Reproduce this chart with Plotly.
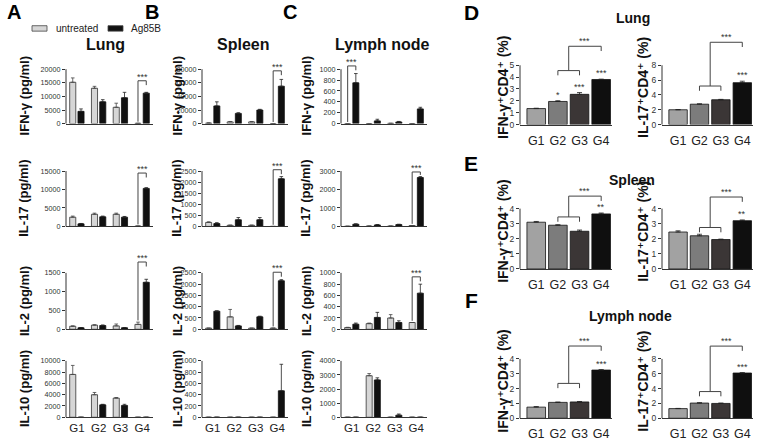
import plotly.graph_objects as go

W, H = 760, 446
groups = ["G1", "G2", "G3", "G4"]
FONT = "Arial, Liberation Sans, DejaVu Sans, sans-serif"

# ---------------- Panels A-C : cytokines (pg/ml) ----------------
lung_ifng_untreated = [15200, 13000, 6000, 100]
lung_ifng_untreated_err = [1600, 700, 1500, 0]
lung_ifng_ag85b = [4500, 8000, 9500, 11200]
lung_ifng_ag85b_err = [900, 800, 2000, 300]

lung_il17_untreated = [2500, 3300, 3300, 100]
lung_il17_untreated_err = [300, 300, 300, 0]
lung_il17_ag85b = [700, 2600, 2500, 10300]
lung_il17_ag85b_err = [100, 200, 200, 200]

lung_il2_untreated = [80, 110, 90, 130]
lung_il2_untreated_err = [10, 10, 50, 60]
lung_il2_ag85b = [40, 100, 40, 1250]
lung_il2_ag85b_err = [5, 15, 5, 80]

lung_il10_untreated = [7600, 4000, 3400, 0]
lung_il10_untreated_err = [1600, 400, 100, 0]
lung_il10_ag85b = [0, 2200, 2100, 0]
lung_il10_ag85b_err = [0, 100, 200, 0]

spleen_ifng_untreated = [800, 2500, 2500, 0]
spleen_ifng_untreated_err = [200, 600, 600, 0]
spleen_ifng_ag85b = [26000, 15000, 20000, 55000]
spleen_ifng_ag85b_err = [6000, 1000, 1000, 10000]

spleen_il17_untreated = [180, 50, 50, 0]
spleen_il17_untreated_err = [30, 10, 10, 0]
spleen_il17_ag85b = [130, 300, 300, 2150]
spleen_il17_ag85b_err = [40, 100, 100, 100]

spleen_il2_untreated = [50, 550, 50, 50]
spleen_il2_untreated_err = [0, 330, 0, 0]
spleen_il2_ag85b = [800, 150, 550, 2150]
spleen_il2_ag85b_err = [20, 20, 30, 50]

spleen_il10_untreated = [0, 0, 0, 0]
spleen_il10_untreated_err = [0, 0, 0, 0]
spleen_il10_ag85b = [0, 0, 0, 470]
spleen_il10_ag85b_err = [0, 0, 0, 470]

lymph_ifng_untreated = [0, 0, 5, 0]
lymph_ifng_untreated_err = [0, 0, 0, 0]
lymph_ifng_ag85b = [750, 50, 30, 270]
lymph_ifng_ag85b_err = [170, 30, 10, 30]

lymph_il17_untreated = [10, 20, 20, 50]
lymph_il17_untreated_err = [0, 0, 0, 0]
lymph_il17_ag85b = [120, 80, 100, 2650]
lymph_il17_ag85b_err = [20, 20, 20, 50]

lymph_il2_untreated = [30, 100, 200, 120]
lymph_il2_untreated_err = [5, 10, 60, 0]
lymph_il2_ag85b = [90, 210, 120, 640]
lymph_il2_ag85b_err = [20, 90, 30, 160]

lymph_il10_untreated = [0, 2950, 0, 0]
lymph_il10_untreated_err = [0, 150, 0, 0]
lymph_il10_ag85b = [0, 2650, 150, 0]
lymph_il10_ag85b_err = [0, 150, 80, 0]

# tick values
ticks_lung = [[0, 5000, 10000, 15000, 20000], [0, 5000, 10000, 15000],
              [0, 500, 1000, 1500], [0, 2000, 4000, 6000, 8000, 10000]]
ticks_spleen = [[0, 20000, 40000, 60000, 80000], [0, 500, 1000, 1500, 2000, 2500],
                [0, 500, 1000, 1500, 2000, 2500], [0, 200, 400, 600, 800, 1000]]
ticks_lymph = [[0, 200, 400, 600, 800, 1000], [0, 1000, 2000, 3000],
               [0, 200, 400, 600, 800, 1000], [0, 1000, 2000, 3000, 4000]]

# significance brackets: (group index, bracket height) or None
sig_lung = [(3, 15750), (3, 14460), (3, 1790), None]
sig_spleen = [(3, 77600), (3, 2560), (3, 2530), None]
sig_lymph = [(0, 1060), (3, 2950), (3, 930), None]

ylabels_abc = ["IFN-γ (pg/ml)", "IL-17 (pg/ml)", "IL-2 (pg/ml)", "IL-10 (pg/ml)"]

# ---------------- Panels D-F : % positive CD4 ----------------
lung_ifng_pct = [1.35, 1.95, 2.55, 3.8]
lung_ifng_pct_err = [0.03, 0.06, 0.15, 0.03]
lung_il17_pct = [2.0, 2.75, 3.35, 5.65]
lung_il17_pct_err = [0.03, 0.05, 0.05, 0.2]
spleen_ifng_pct = [3.1, 2.9, 2.5, 3.65]
spleen_ifng_pct_err = [0.05, 0.03, 0.08, 0.06]
spleen_il17_pct = [2.45, 2.2, 1.95, 3.2]
spleen_il17_pct_err = [0.08, 0.1, 0.03, 0.05]
lymph_ifng_pct = [0.75, 1.07, 1.1, 3.25]
lymph_ifng_pct_err = [0.04, 0.02, 0.03, 0.03]
lymph_il17_pct = [1.3, 2.05, 2.0, 6.1]
lymph_il17_pct_err = [0.03, 0.05, 0.05, 0.05]

stars_lung_ifng = ["", "*", "***", "***"]
stars_lung_il17 = ["", "", "", "***"]
stars_spleen_ifng = ["", "", "", "**"]
stars_spleen_il17 = ["", "", "", "**"]
stars_lymph_ifng = ["", "", "", "***"]
stars_lymph_il17 = ["", "", "", "***"]

# comparison (G2+G3) vs G4 : (lower bracket height, upper bracket height)
cmp_lung = [(4.55, 6.6), (5.2, 11.1)]
cmp_spleen = [(3.45, 4.83), (2.75, 4.77)]
cmp_lymph = [(2.35, 4.87), (3.6, 9.73)]

group_colors = ["#a2a2a2", "#7c7c7c", "#3b3636", "#0f0f0f"]
UNTR_COLOR = "#d6d6d6"
AG_COLOR = "#111111"

# ---------------- layout geometry (pixels) ----------------
abc_cols = [(66, 153), (202, 288), (341, 427)]
abc_rows = [(125, 70), (229, 173), (333, 276), (422, 365)]
abc_title_x = [24, 177, 306]
def_cols = [(520, 612), (662, 753)]
def_rows = [(126, 66), (272, 211), (423, 363)]
def_title_x = [503, 643]

fig = go.Figure()
layout = {}
shapes = []
annotations = []
axis_i = [0]


def px_x(p):
    return p / W


def px_y(p):
    return 1 - p / H


def new_axes(xpix, ypix, top_tick, tickvals, xrange, ext, show_xlabels, tickfont, xfont,
             xstandoff):
    axis_i[0] += 1
    i = axis_i[0]
    xname, yname = ("xaxis%d" % i, "yaxis%d" % i)
    x0, x1 = xpix
    y0, ytop = ypix
    hpx = (y0 - ytop) * ext
    layout[xname] = dict(domain=[px_x(x0), px_x(x1)], range=list(xrange), anchor="y%d" % i,
                         showline=True, linecolor="#333", linewidth=1, ticks="",
                         tickvals=[0, 1, 2, 3], ticktext=groups, showticklabels=show_xlabels,
                         ticklabelstandoff=xstandoff,
                         tickfont=dict(size=xfont, color="#222", family=FONT),
                         showgrid=False, zeroline=False, fixedrange=True)
    layout[yname] = dict(domain=[px_y(y0), px_y(y0 - hpx)], range=[0, top_tick * ext],
                         anchor="x%d" % i, showline=False, ticks="outside", ticklen=3,
                         tickwidth=1, tickcolor="#333", tickvals=tickvals, tickformat="d",
                         tickfont=dict(size=tickfont, color="#333", family=FONT),
                         showgrid=False, zeroline=False, fixedrange=True)
    # visible y axis line only up to the top tick
    shapes.append(dict(type="line", xref="paper", yref="paper", x0=px_x(x0), x1=px_x(x0),
                       y0=px_y(y0), y1=px_y(ytop), line=dict(color="#333", width=1)))
    return "x%d" % i, "y%d" % i


def bracket_line(xr, yr, xa, ya, color="#444"):
    shapes.append(dict(type="line", xref=xr, yref=yr, x0=xa[0], x1=xa[1], y0=ya[0], y1=ya[1],
                       line=dict(color=color, width=1)))


abc_data = [
    [(lung_ifng_untreated, lung_ifng_untreated_err, lung_ifng_ag85b, lung_ifng_ag85b_err),
     (lung_il17_untreated, lung_il17_untreated_err, lung_il17_ag85b, lung_il17_ag85b_err),
     (lung_il2_untreated, lung_il2_untreated_err, lung_il2_ag85b, lung_il2_ag85b_err),
     (lung_il10_untreated, lung_il10_untreated_err, lung_il10_ag85b, lung_il10_ag85b_err)],
    [(spleen_ifng_untreated, spleen_ifng_untreated_err, spleen_ifng_ag85b, spleen_ifng_ag85b_err),
     (spleen_il17_untreated, spleen_il17_untreated_err, spleen_il17_ag85b, spleen_il17_ag85b_err),
     (spleen_il2_untreated, spleen_il2_untreated_err, spleen_il2_ag85b, spleen_il2_ag85b_err),
     (spleen_il10_untreated, spleen_il10_untreated_err, spleen_il10_ag85b, spleen_il10_ag85b_err)],
    [(lymph_ifng_untreated, lymph_ifng_untreated_err, lymph_ifng_ag85b, lymph_ifng_ag85b_err),
     (lymph_il17_untreated, lymph_il17_untreated_err, lymph_il17_ag85b, lymph_il17_ag85b_err),
     (lymph_il2_untreated, lymph_il2_untreated_err, lymph_il2_ag85b, lymph_il2_ag85b_err),
     (lymph_il10_untreated, lymph_il10_untreated_err, lymph_il10_ag85b, lymph_il10_ag85b_err)],
]
abc_ticks = [ticks_lung, ticks_spleen, ticks_lymph]
abc_sig = [sig_lung, sig_spleen, sig_lymph]

W_BAR = 0.28
OFF_U, OFF_A = -0.33, 0.05
xs = [0, 1, 2, 3]


def bold_font(size, color="#111"):
    return dict(size=size, color=color, family=FONT, weight="bold")


for c in range(3):
    for r in range(4):
        untr, untr_err, ag, ag_err = abc_data[c][r]
        tv = abc_ticks[c][r]
        T = tv[-1]
        xa, ya = new_axes(abc_cols[c], abc_rows[r], T, tv, (-0.5, 3.5), 1.4,
                          r == 3, 7.2, 11.5, 0)
        fig.add_trace(go.Bar(x=xs, y=untr, width=W_BAR, offset=OFF_U, xaxis=xa, yaxis=ya,
                             name="untreated", showlegend=False,
                             marker=dict(color=UNTR_COLOR, line=dict(color="#333", width=0.8)),
                             error_y=dict(type="data", symmetric=False, array=untr_err,
                                          arrayminus=[0] * 4, thickness=0.8, width=1.8,
                                          color="#444")))
        fig.add_trace(go.Bar(x=xs, y=ag, width=W_BAR, offset=OFF_A, xaxis=xa, yaxis=ya,
                             name="Ag85B", showlegend=False,
                             marker=dict(color=AG_COLOR, line=dict(color="#111", width=0.8)),
                             error_y=dict(type="data", symmetric=False, array=ag_err,
                                          arrayminus=[0] * 4, thickness=0.8, width=1.8,
                                          color="#222")))
        sig = abc_sig[c][r]
        if sig is not None:
            g, by = sig
            xl = g + OFF_U + W_BAR / 2
            xr = g + OFF_A + W_BAR / 2
            lt = untr[g] + untr_err[g] + 0.03 * T
            rt = max(ag[g] + ag_err[g] + 0.03 * T, by - 0.08 * T)
            bracket_line(xa, ya, (xl, xr), (by, by))
            bracket_line(xa, ya, (xl, xl), (by, lt))
            bracket_line(xa, ya, (xr, xr), (by, rt))
            annotations.append(dict(x=(xl + xr) / 2, y=by, xref=xa, yref=ya, text="***",
                                    showarrow=False, yanchor="bottom", yshift=-3,
                                    font=dict(size=9, color="#333", family=FONT)))
        y0, ytop = abc_rows[r]
        annotations.append(dict(x=px_x(abc_title_x[c]), y=px_y((y0 + ytop) / 2), xref="paper",
                                yref="paper", text=ylabels_abc[r], textangle=-90,
                                showarrow=False, xanchor="center", yanchor="middle",
                                font=bold_font(13)))

# ---------------- D-F ----------------
def_data = [
    [(lung_ifng_pct, lung_ifng_pct_err, stars_lung_ifng, [0, 1, 2, 3, 4, 5]),
     (lung_il17_pct, lung_il17_pct_err, stars_lung_il17, [0, 2, 4, 6, 8])],
    [(spleen_ifng_pct, spleen_ifng_pct_err, stars_spleen_ifng, [0, 1, 2, 3, 4]),
     (spleen_il17_pct, spleen_il17_pct_err, stars_spleen_il17, [0, 1, 2, 3, 4])],
    [(lymph_ifng_pct, lymph_ifng_pct_err, stars_lymph_ifng, [0, 1, 2, 3, 4]),
     (lymph_il17_pct, lymph_il17_pct_err, stars_lymph_il17, [0, 2, 4, 6, 8])],
]
def_cmp = [cmp_lung, cmp_spleen, cmp_lymph]
ylabels_def = ["IFN-γ⁺CD4⁺ (%)", "IL-17⁺CD4⁺ (%)"]

for r in range(3):
    for c in range(2):
        vals, errs, stars, tv = def_data[r][c]
        T = tv[-1]
        xa, ya = new_axes(def_cols[c], def_rows[r], T, tv, (-0.75, 3.5), 1.6, True, 8.5,
                          12.5, 4)
        fig.add_trace(go.Bar(x=xs, y=vals, width=0.86, xaxis=xa, yaxis=ya, showlegend=False,
                             marker=dict(color=group_colors, line=dict(color="#111", width=0.8)),
                             error_y=dict(type="data", symmetric=False, array=errs,
                                          arrayminus=[0] * 4, thickness=0.8, width=2.5,
                                          color="#222")))
        for k in range(4):
            if stars[k]:
                annotations.append(dict(x=k, y=vals[k] + errs[k], xref=xa, yref=ya,
                                        text=stars[k], showarrow=False, yanchor="bottom",
                                        yshift=-1, font=dict(size=9, color="#333", family=FONT)))
        low, high = def_cmp[r][c]
        d = 0.08 * T
        bracket_line(xa, ya, (1, 2), (low, low))
        bracket_line(xa, ya, (1, 1), (low, low - d))
        bracket_line(xa, ya, (2, 2), (low, low - d))
        bracket_line(xa, ya, (1.5, 1.5), (low, high))
        bracket_line(xa, ya, (1.5, 3), (high, high))
        bracket_line(xa, ya, (3, 3), (high, high - d))
        annotations.append(dict(x=2.25, y=high, xref=xa, yref=ya, text="***", showarrow=False,
                                yanchor="bottom", yshift=-2,
                                font=dict(size=9, color="#333", family=FONT)))
        y0, ytop = def_rows[r]
        annotations.append(dict(x=px_x(def_title_x[c]), y=px_y((y0 + ytop) / 2 - 7),
                                xref="paper", yref="paper", text=ylabels_def[c], textangle=-90,
                                showarrow=False, xanchor="center", yanchor="middle",
                                font=bold_font(14)))

# ---------------- titles, panel letters, legend ----------------
for txt, x, y, s in [("A", 14, 12.5, 20), ("B", 152, 12.5, 20), ("C", 290, 12.5, 20),
                     ("D", 471, 13, 21), ("E", 471, 165, 21), ("F", 471, 304, 21)]:
    annotations.append(dict(x=px_x(x), y=px_y(y), xref="paper", yref="paper",
                            text=txt, showarrow=False, xanchor="center",
                            yanchor="middle", font=bold_font(s, "#000")))
for txt, x, y, s in [("Lung", 106, 45, 16), ("Spleen", 243, 45, 16), ("Lymph node", 383, 45, 16),
                     ("Lung", 633, 18, 14), ("Spleen", 632, 182, 14),
                     ("Lymph node", 630, 320, 14)]:
    annotations.append(dict(x=px_x(x), y=px_y(y), xref="paper", yref="paper",
                            text=txt, showarrow=False, xanchor="center",
                            yanchor="middle", font=bold_font(s)))

for (bx0, bx1, col, label, tx) in [(32, 47, UNTR_COLOR, "untreated", 54),
                                   (108, 123, AG_COLOR, "Ag85B", 129)]:
    shapes.append(dict(type="rect", xref="paper", yref="paper", x0=px_x(bx0), x1=px_x(bx1),
                       y0=px_y(31.5), y1=px_y(26), fillcolor=col,
                       line=dict(color="#444", width=0.8)))
    annotations.append(dict(x=px_x(tx), y=px_y(29), xref="paper", yref="paper", text=label,
                            showarrow=False, xanchor="left", yanchor="middle",
                            font=dict(size=10, color="#222", family=FONT)))

fig.update_layout(width=W, height=H, margin=dict(l=0, r=0, t=0, b=0),
                  paper_bgcolor="white", plot_bgcolor="white", showlegend=False,
                  barmode="overlay", shapes=shapes, annotations=annotations,
                  font=dict(family=FONT), **layout)

fig.write_html("out.html", config={"displayModeBar": False},
               post_script="document.body.style.margin='0px';")
